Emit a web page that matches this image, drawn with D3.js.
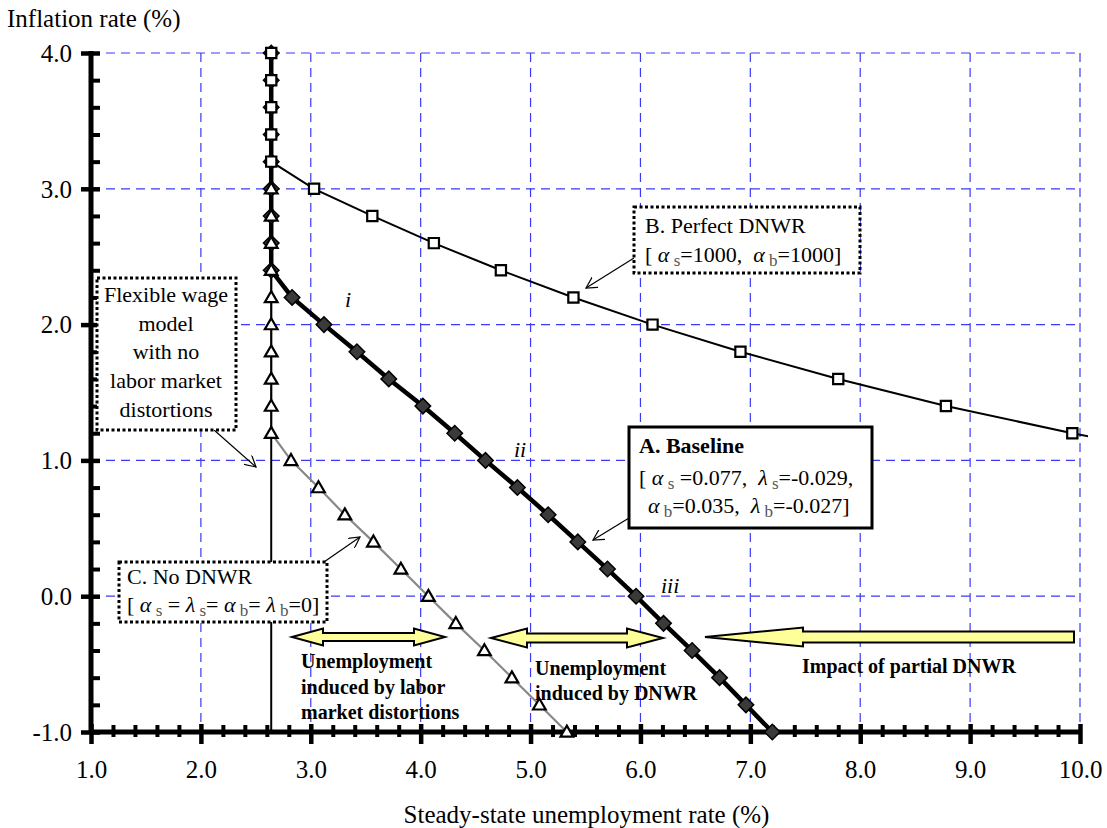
<!DOCTYPE html>
<html><head><meta charset="utf-8">
<script src="https://cdn.jsdelivr.net/npm/d3@7"></script>
<style>
body{margin:0;background:#fff}
svg{display:block}
svg text{font-family:'Liberation Serif','DejaVu Serif','Times New Roman',serif !important;white-space:pre}
</style>
</head><body>
<svg id="chart" width="1107" height="828" style="font-family:'Liberation Serif','DejaVu Serif',serif"></svg>
<script>
// ---------------- DATA ----------------
const baselineInflation = [4.0,3.8,3.6,3.4,3.2,3.0,2.8,2.6,2.4,2.2,2.0,1.8,1.6,1.4,1.2,1.0,0.8,0.6,0.4,0.2,0.0,-0.2,-0.4,-0.6,-0.8,-1.0];
const baselineUnemp     = [2.64,2.64,2.64,2.64,2.64,2.64,2.64,2.64,2.64,2.83,3.12,3.42,3.71,4.02,4.31,4.59,4.88,5.16,5.43,5.70,5.96,6.21,6.47,6.72,6.96,7.20];

const perfectInflation = [4.0,3.8,3.6,3.4,3.2,3.0,2.8,2.6,2.4,2.2,2.0,1.8,1.6,1.4,1.2,1.0];
const perfectUnemp     = [2.64,2.64,2.64,2.64,2.64,3.03,3.56,4.12,4.73,5.39,6.11,6.91,7.80,8.78,9.93,11.2];

const noDnwrInflation = [3.0,2.8,2.6,2.4,2.2,2.0,1.8,1.6,1.4,1.2,1.0,0.8,0.6,0.4,0.2,0.0,-0.2,-0.4,-0.6,-0.8,-1.0];
const noDnwrUnemp     = [2.64,2.64,2.64,2.64,2.64,2.64,2.64,2.64,2.64,2.64,2.82,3.07,3.31,3.57,3.82,4.07,4.32,4.58,4.83,5.08,5.33];

const flexInflation = [-1.0, 4.0];
const flexUnemp     = [2.64, 2.64];

const xTickValues = [1,2,3,4,5,6,7,8,9,10];
const yTickValues = [-1,0,1,2,3,4];
const xTickLabels = ["1.0","2.0","3.0","4.0","5.0","6.0","7.0","8.0","9.0","10.0"];
const yTickLabels = ["-1.0","0.0","1.0","2.0","3.0","4.0"];
const xTitle = "Steady-state unemployment rate (%)";
const yTitle = "Inflation rate (%)";

// ---------------- LAYOUT ----------------
const FONT = "'Liberation Serif','DejaVu Serif','Times New Roman',serif";
const svg = d3.select("#chart");
const L = 91, R = 1080, T = 53, B = 732;
const x = d3.scaleLinear().domain([1,10]).range([L,R]);
const y = d3.scaleLinear().domain([-1,4]).range([B,T]);
const zip = (xs, ys) => xs.map((v,i)=>({u:v, p:ys[i]}));
const A = zip(baselineUnemp, baselineInflation);
const Bs = zip(perfectUnemp, perfectInflation);
const C = zip(noDnwrUnemp, noDnwrInflation);
const F = zip(flexUnemp, flexInflation);

const gridColor = "#3a3af5";
const grid = svg.append("g");
grid.selectAll("line.v").data(xTickValues.slice(1)).join("line")
  .attr("x1", d=>x(d)).attr("x2", d=>x(d)).attr("y1", T).attr("y2", B)
  .attr("stroke", gridColor).attr("stroke-width", 1.2).attr("stroke-dasharray","9,6");
grid.selectAll("line.h").data(yTickValues.slice(1)).join("line")
  .attr("x1", L).attr("x2", R).attr("y1", d=>y(d)).attr("y2", d=>y(d))
  .attr("stroke", gridColor).attr("stroke-width", 1.2).attr("stroke-dasharray","9,6");

svg.append("clipPath").attr("id","clip").append("rect")
  .attr("x", L-2).attr("y", T-10).attr("width", R-L+10).attr("height", B-T+20);

const line = d3.line().x(d=>x(d.u)).y(d=>y(d.p));
const lines = svg.append("g").attr("clip-path","url(#clip)");
lines.append("path").attr("d", line(C)).attr("fill","none").attr("stroke","#888").attr("stroke-width",2.2);
lines.append("path").attr("d", line(F)).attr("fill","none").attr("stroke","#000").attr("stroke-width",2);
lines.append("path").attr("d", line(Bs)).attr("fill","none").attr("stroke","#000").attr("stroke-width",2);
lines.append("path").attr("d", line(A)).attr("fill","none").attr("stroke","#000").attr("stroke-width",4.5);

// axes
const minorX = d3.range(1, 10.001, 0.2).filter(v => Math.abs(v - Math.round(v)) > 1e-6);
const minorY = d3.range(-1, 4.001, 0.2).filter(v => Math.abs(v - Math.round(v)) > 1e-6);

const gx = svg.append("g").attr("transform",`translate(0,${B})`);
gx.call(d3.axisBottom(x).tickValues(minorX).tickFormat("").tickSizeOuter(0));
gx.select(".domain").remove();
gx.selectAll(".tick line").attr("y1",-7).attr("y2",5).attr("stroke","#000").attr("stroke-width",4);
const gx2 = svg.append("g").attr("transform",`translate(0,${B})`);
gx2.call(d3.axisBottom(x).tickValues(xTickValues).tickFormat((d,i)=>xTickLabels[i]).tickSizeOuter(0));
gx2.attr("font-family", FONT);
gx2.select(".domain").remove();
gx2.selectAll(".tick line").attr("y1",-8).attr("y2",12).attr("stroke","#000").attr("stroke-width",4.5);
gx2.selectAll(".tick text").attr("y",46).attr("dy",0).attr("font-size",25).attr("fill","#000");

const gy = svg.append("g").attr("transform",`translate(${L},0)`);
gy.call(d3.axisLeft(y).tickValues(minorY).tickFormat("").tickSizeOuter(0));
gy.select(".domain").remove();
gy.selectAll(".tick line").attr("x1",0).attr("x2",9).attr("stroke","#000").attr("stroke-width",4);
const gy2 = svg.append("g").attr("transform",`translate(${L},0)`);
gy2.call(d3.axisLeft(y).tickValues(yTickValues).tickFormat((d,i)=>yTickLabels[i]).tickSizeOuter(0));
gy2.attr("font-family", FONT);
gy2.select(".domain").remove();
gy2.selectAll(".tick line").attr("x1",-10).attr("x2",9).attr("stroke","#000").attr("stroke-width",4.5);
gy2.selectAll(".tick text").attr("x",-19).attr("dy","0.33em").attr("font-size",25).attr("fill","#000");

svg.append("line").attr("x1",L).attr("x2",L).attr("y1",T-2).attr("y2",B+2).attr("stroke","#000").attr("stroke-width",5);
svg.append("line").attr("x1",L-2).attr("x2",R+2).attr("y1",B).attr("y2",B).attr("stroke","#000").attr("stroke-width",5);

// markers
const mk = svg.append("g").attr("clip-path","url(#clip)");
mk.selectAll("path.dia").data(A).join("path")
  .attr("d", d3.symbol(d3.symbolSquare, 120)())
  .attr("transform", d=>`translate(${x(d.u)},${y(d.p)}) rotate(45)`)
  .attr("fill","#3a3a3a").attr("stroke","#000").attr("stroke-width",1.5);
mk.selectAll("path.sq").data(Bs).join("path")
  .attr("d", d3.symbol(d3.symbolSquare, 105)())
  .attr("transform", d=>`translate(${x(d.u)},${y(d.p)})`)
  .attr("fill","#fff").attr("stroke","#000").attr("stroke-width",2.2);
mk.selectAll("path.tri").data(C).join("path")
  .attr("d", d3.symbol(d3.symbolTriangle, 70)())
  .attr("transform", d=>`translate(${x(d.u)},${y(d.p)+1})`)
  .attr("fill","#fff").attr("stroke","#000").attr("stroke-width",2.2);

const txt = (px,py,s,size) => svg.append("text").attr("x",px).attr("y",py)
  .attr("font-family",FONT).attr("font-size",size||22).text(s);

// titles
txt(7,27,yTitle,25);
txt((L+R)/2+1,823,xTitle,25).attr("text-anchor","middle");

// roman labels
[["i",345,307],["ii",514,457],["iii",661,593]].forEach(([t,px,py])=>{
  txt(px,py,t,22).attr("font-style","italic");
});

// annotation arrows (thin)
svg.append("defs").append("marker").attr("id","arr").attr("viewBox","0 0 12 12")
  .attr("refX",11).attr("refY",6).attr("markerWidth",12).attr("markerHeight",12)
  .attr("markerUnits","userSpaceOnUse").attr("orient","auto")
  .append("path").attr("d","M0,0 L11,6 L0,12").attr("fill","none").attr("stroke","#000").attr("stroke-width",1.2);
[[634,258,586,288],[629,518,593,540],[324,562,360,537],[214,430,256,467]].forEach(([a,b,c,d])=>{
  svg.append("line").attr("x1",a).attr("y1",b).attr("x2",c).attr("y2",d)
    .attr("stroke","#000").attr("stroke-width",1.2).attr("marker-end","url(#arr)");
});

// boxes
function box(x0,y0,w,h,dotted){
  svg.append("rect").attr("x",x0).attr("y",y0).attr("width",w).attr("height",h)
    .attr("fill","#fff").attr("stroke","#000").attr("stroke-width",3)
    .attr("stroke-dasharray", dotted ? "3,2.5" : null);
}
function richText(px,py,segs){
  const t = txt(px,py,"",22);
  let shifted = false;
  segs.forEach(([s,kind])=>{
    const sp = t.append("tspan").text(s);
    if(kind==="sub"){ sp.attr("font-size",17).attr("fill","#555").attr("dy", shifted?0:4); shifted=true; }
    else { if(shifted){ sp.attr("dy",-4); shifted=false; }
      if(kind==="g"){ sp.attr("font-style","italic"); } }
  });
  return t;
}

box(634,207,226,66,true);
txt(645,233,"B. Perfect DNWR",22);
richText(645,262,[["[ ",""],["α","g"],[" s","sub"],["=1000,  ",""],["α","g"],[" b","sub"],["=1000]",""]]);

box(629,427,243,101,false);
txt(639,453,"A. Baseline",22).attr("font-weight","bold");
richText(639,485,[["[ ",""],["α","g"],[" s","sub"],[" =0.077,  ",""],["λ","g"],[" s","sub"],["=-0.029,",""]]);
richText(648,513,[["α","g"],[" b","sub"],["=0.035,  ",""],["λ","g"],[" b","sub"],["=-0.027]",""]]);

box(119,562,208,60,true);
txt(127,584,"C. No DNWR",22);
richText(127,612,[["[ ",""],["α","g"],[" s","sub"],[" = ",""],["λ","g"],[" s","sub"],["= ",""],["α","g"],[" b","sub"],["= ",""],["λ","g"],[" b","sub"],["=0]",""]]);

box(97,278,139,152,true);
["Flexible wage","model","with no","labor market","distortions"].forEach((s,i)=>{
  txt(166,302+i*28.7,s,22).attr("text-anchor","middle");
});

// yellow arrows
const yf = "#ffff99";
function dbl(x1,x2,cy,hl,hh,sh){
  return `M${x1},${cy} L${x1+hl},${cy-hh} L${x1+hl},${cy-sh} L${x2-hl},${cy-sh} L${x2-hl},${cy-hh} L${x2},${cy} L${x2-hl},${cy+hh} L${x2-hl},${cy+sh} L${x1+hl},${cy+sh} L${x1+hl},${cy+hh} Z`;
}
function sgl(x1,x2,cy,hl,hh,sh){
  return `M${x1},${cy} L${x1+hl},${cy-hh} L${x1+hl},${cy-sh} L${x2},${cy-sh} L${x2},${cy+sh} L${x1+hl},${cy+sh} L${x1+hl},${cy+hh} Z`;
}
svg.append("path").attr("d",dbl(292,445,637,31,8.5,4)).attr("fill",yf).attr("stroke","#000").attr("stroke-width",2);
svg.append("path").attr("d",dbl(491,663,638,36,9.5,4.5)).attr("fill",yf).attr("stroke","#000").attr("stroke-width",2);
svg.append("path").attr("d",sgl(705,1074,637,98,9.5,5.5)).attr("fill",yf).attr("stroke","#000").attr("stroke-width",2);

function boldLines(px,py,arr,lh){
  arr.forEach((s,i)=>txt(px,py+i*lh,s,20).attr("font-weight","bold"));
}
boldLines(301,668,["Unemployment","induced by labor","market distortions"],25.5);
boldLines(535,675,["Unemployment","induced by DNWR"],25);
boldLines(802,673,["Impact of partial DNWR"],25);
</script>
</body></html>
